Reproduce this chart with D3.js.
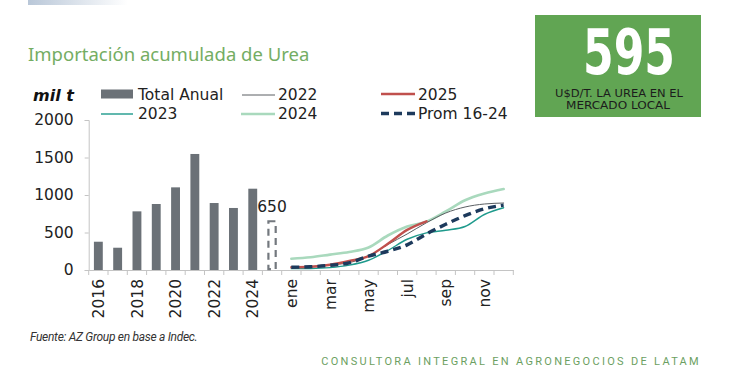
<!DOCTYPE html>
<html><head><meta charset="utf-8">
<script src="https://cdn.jsdelivr.net/npm/d3@7/dist/d3.min.js"></script>
<style>
html,body{margin:0;padding:0;background:#fff;}
svg{display:block;}
</style></head>
<body>
<svg id="c" width="730" height="385"></svg>
<script>
// ---- data ----
const years = ["2016","2017","2018","2019","2020","2021","2022","2023","2024"];
const totals = [377, 297, 782, 880, 1102, 1547, 893, 827, 1084];
const ytdLabel = "2025";
const ytdValue = 650;
const months = ["ene","feb","mar","abr","may","jun","jul","ago","sep","oct","nov","dic"];
const s2022 = [36, 44, 67, 98, 187, 340, 480, 630, 760, 840, 880, 893];
const s2023 = [18, 20, 32, 65, 130, 260, 410, 495, 530, 580, 740, 830];
const s2024 = [150, 170, 205, 240, 300, 460, 580, 645, 780, 930, 1020, 1080];
const s2025 = [36, 44, 70, 120, 185, 350, 535, 650];
const sProm = [36, 44, 62, 95, 185, 250, 335, 480, 610, 725, 815, 865];
const yTicks = [0, 500, 1000, 1500, 2000];

const svg = d3.select("#c");
const font = "'DejaVu Sans', sans-serif";
const narrow = "'Liberation Sans Narrow','DejaVu Sans Condensed',sans-serif";

// faint cut-off header image
const defs = svg.append("defs");
const g0 = defs.append("linearGradient").attr("id","hdr").attr("x1","0").attr("x2","1");
g0.append("stop").attr("offset","0").attr("stop-color","#b9c7d8");
g0.append("stop").attr("offset","1").attr("stop-color","#ffffff");
svg.append("rect").attr("x",28).attr("y",0).attr("width",100).attr("height",5).attr("fill","url(#hdr)");

// title
svg.append("text").attr("x",28).attr("y",61)
  .style("font-family","'Noto Sans', sans-serif").style("font-size","18.5px")
  .attr("fill","#74ad63").text("Importación acumulada de Urea");

// green box
svg.append("rect").attr("x",535).attr("y",15).attr("width",166).attr("height",102).attr("fill","#61a553");
svg.append("text").attr("x",629).attr("y",73.5).attr("text-anchor","middle")
  .style("font-family",narrow)
  .style("font-weight","bold").style("font-size","62px").attr("fill","#fff")
  .attr("textLength",92).attr("lengthAdjust","spacingAndGlyphs").text("595");
svg.append("text").attr("x",619).attr("y",97).attr("text-anchor","middle")
  .style("font-family",narrow).style("font-size","10.2px").attr("fill","#1c1c1c")
  .attr("textLength",128).attr("lengthAdjust","spacingAndGlyphs").text("U$D/T. LA UREA EN EL");
svg.append("text").attr("x",618).attr("y",108.5).attr("text-anchor","middle")
  .style("font-family",narrow).style("font-size","10.2px").attr("fill","#1c1c1c")
  .attr("textLength",104).attr("lengthAdjust","spacingAndGlyphs").text("MERCADO LOCAL");

// scales
const cats = years.concat([ytdLabel]).concat(months);
const x = d3.scaleBand().domain(cats).range([88.7, 513.3]);
const y = d3.scaleLinear().domain([0, 2000]).range([270, 120]);
const bw = x.bandwidth() * 0.46;
const cx = c => x(c) + x.bandwidth() / 2;

// axes
const yAxis = svg.append("g").attr("transform", `translate(${x.range()[0]},0)`)
  .call(d3.axisLeft(y).tickValues(yTicks).tickFormat(d3.format("d")).tickSize(4).tickPadding(11));
yAxis.select(".domain").attr("stroke","#c4c4c4");
yAxis.selectAll(".tick line").attr("stroke","#c4c4c4");
yAxis.selectAll(".tick text").style("font-family",font).style("font-size","15.5px").attr("fill","#222");

const xAxis = svg.append("g").attr("transform", `translate(0,${y(0)})`)
  .call(d3.axisBottom(x).tickSize(0).tickFormat((d, i) => i % 2 === 0 ? d : ""));
xAxis.select(".domain").attr("stroke","#c4c4c4");
xAxis.selectAll(".tick text")
  .style("font-family",font).style("font-size","15.5px").attr("fill","#222")
  .attr("text-anchor","end").attr("transform","rotate(-90)")
  .attr("x",-9).attr("y",0).attr("dy","0.36em");
// boundary ticks
const bounds = cats.map(c => x(c)).concat([x.range()[1]]);
svg.append("g").selectAll("line").data(bounds).join("line")
  .attr("x1",d=>d).attr("x2",d=>d).attr("y1",y(0)).attr("y2",y(0)+5)
  .attr("stroke","#c4c4c4");

// bars
svg.append("g").selectAll("rect").data(years).join("rect")
  .attr("x", d => cx(d) - bw/2).attr("width", bw)
  .attr("y", (d,i) => y(totals[i])).attr("height", (d,i) => y(0) - y(totals[i]))
  .attr("fill","#6b7177");
// 2025 ytd dashed bar
svg.append("rect").attr("x", cx(ytdLabel) - bw/2 + 0.8).attr("width", bw - 1.6)
  .attr("y", y(ytdValue)).attr("height", y(0) - y(ytdValue) - 0.8)
  .attr("fill","none").attr("stroke","#73787e").attr("stroke-width",2.2)
  .attr("stroke-dasharray","7,5");
svg.append("text").attr("x", cx(ytdLabel)).attr("y", y(ytdValue) - 9)
  .attr("text-anchor","middle").style("font-family",font).style("font-size","15.5px")
  .attr("fill","#222").text(ytdValue);

// lines
const line = d3.line().x((d,i) => cx(months[i])).y(d => y(d)).curve(d3.curveMonotoneX);
const lg = svg.append("g").attr("fill","none").attr("stroke-linecap","round");
lg.append("path").attr("d", line(s2024)).attr("stroke","#a9d9bd").attr("stroke-width",2.6);
lg.append("path").attr("d", line(s2023)).attr("stroke","#1e9a8c").attr("stroke-width",1.4);
lg.append("path").attr("d", line(s2022)).attr("stroke","#5b5f63").attr("stroke-width",1);
lg.append("path").attr("d", line(s2025)).attr("stroke","#c0504d").attr("stroke-width",2.4);
lg.append("path").attr("d", line(sProm)).attr("stroke","#1d3a5c").attr("stroke-width",3.4)
  .attr("stroke-dasharray","8,5").attr("stroke-linecap","butt");

// legend
svg.append("text").attr("x",33).attr("y",101)
  .style("font-family",font).style("font-size","16px").style("font-weight","bold").style("font-style","italic")
  .attr("fill","#111").text("mil t");
const lgd = svg.append("g").style("font-family",font).style("font-size","15.5px").attr("fill","#222");
lgd.append("rect").attr("x",101).attr("y",89.5).attr("width",32).attr("height",9).attr("fill","#6b7177");
lgd.append("text").attr("x",138).attr("y",100).text("Total Anual");
lgd.append("line").attr("x1",242).attr("x2",275).attr("y1",95).attr("y2",95).attr("stroke","#5b5f63").attr("stroke-width",1);
lgd.append("text").attr("x",278).attr("y",100).text("2022");
lgd.append("line").attr("x1",381).attr("x2",415).attr("y1",94).attr("y2",94).attr("stroke","#c0504d").attr("stroke-width",2.4);
lgd.append("text").attr("x",418).attr("y",100).text("2025");
lgd.append("line").attr("x1",101).attr("x2",133).attr("y1",114).attr("y2",114).attr("stroke","#1e9a8c").attr("stroke-width",1.4);
lgd.append("text").attr("x",138).attr("y",119).text("2023");
lgd.append("line").attr("x1",241).attr("x2",275).attr("y1",114).attr("y2",114).attr("stroke","#a9d9bd").attr("stroke-width",2.6);
lgd.append("text").attr("x",278).attr("y",119).text("2024");
lgd.append("line").attr("x1",381).attr("x2",416).attr("y1",113.5).attr("y2",113.5).attr("stroke","#1d3a5c").attr("stroke-width",3.4).attr("stroke-dasharray","8,5");
lgd.append("text").attr("x",418).attr("y",119).text("Prom 16-24");

// footer
svg.append("text").attr("x",30).attr("y",341)
  .style("font-family","Roboto, sans-serif").style("font-size","12px").style("font-style","italic")
  .style("letter-spacing","-0.3px").attr("fill","#333").text("Fuente: AZ Group en base a Indec.");
svg.append("text").attr("x",701).attr("y",365).attr("text-anchor","end")
  .style("font-family","Roboto, sans-serif").style("font-size","11px")
  .style("letter-spacing","2.3px").attr("fill","#6c9f62").text("CONSULTORA INTEGRAL EN AGRONEGOCIOS DE LATAM");
</script>
</body></html>
